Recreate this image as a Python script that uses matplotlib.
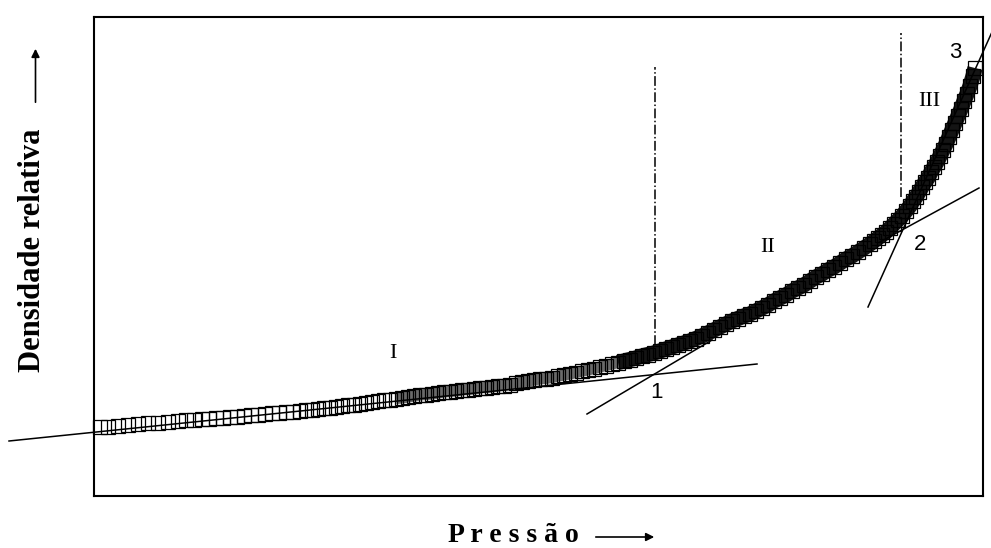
import numpy as np
import matplotlib.pyplot as plt

# pressure / relative density (arbitrary units, no ticks)
pressao = [6, 14, 24, 34, 44, 54, 64, 74, 84, 92, 100, 108, 115, 122, 129, 136, 143, 150, 157, 164,
           171, 178, 185, 192, 199, 206,
           212, 218, 224, 230, 236, 242, 248, 254, 260, 266, 272, 278, 284, 290, 296, 302, 308, 314,
           320, 326, 332, 338, 344, 350, 356, 362, 368, 374, 380, 386, 392, 398, 404, 410, 416, 422,
           428, 434, 440, 446, 452, 458, 464, 470, 476, 482, 488, 494, 500, 506,
           512, 518, 524, 530, 536, 542, 548, 554, 560, 566, 572, 578, 584, 590, 596, 602, 608, 614,
           620, 626, 632, 638, 644, 650, 656, 662, 668, 674, 680, 686, 692, 698, 704, 710, 716, 722,
           728, 734, 740, 746, 752, 758, 764, 770, 776, 780, 784, 788, 792, 796, 800, 804, 808, 812,
           816, 819, 822, 825, 828, 831, 834, 837, 840, 843, 846, 849, 852, 855, 858, 861, 864, 867,
           870, 873, 876, 879, 881]
densidade = [69, 69.5, 70, 71, 72, 73, 73.5, 74.5, 75, 76, 76.5, 77, 77.5, 78, 78.5, 79, 79.5, 80.5, 81, 81.5,
             82, 83, 83.5, 84, 84.5, 85,
             86, 86.5, 87, 88, 88.5, 89, 90, 91, 91.5, 92.5, 93, 94, 95, 96, 96.5, 97.5, 98, 99,
             100, 101, 101.5, 102, 103, 104, 104.5, 105, 106, 106.5, 107, 108, 108.5, 109, 110, 110.5, 111.5, 113,
             114, 115, 116, 117, 117.5, 118.5, 120, 121, 122, 123.5, 125, 126, 127.5, 129,
             130.5, 132, 133.5, 135, 136.5, 138, 140, 141.5, 143, 145, 147, 149, 151, 153, 155, 157.5, 160, 163,
             166, 169, 172, 175, 177.5, 180, 182, 185, 188, 191, 195, 198, 201, 205, 208, 211, 215, 219,
             222, 226, 229, 233, 237, 240, 244, 248, 252, 255, 258, 261, 264, 268, 272, 276, 280, 285,
             290, 295, 299, 304, 309, 314, 318, 324, 329, 334, 340, 346, 352, 359, 366, 373, 380, 387,
             395, 402, 410, 420, 428]

# tangent lines (x0, x1), (y0, y1)
tang_x = [(-85, 663), (493, 618), (786, 885), (774, 898)]
tang_y = [(55, 132), (82, 156), (254, 308), (189, 464)]

# region limits (dash-dot)
lim_x = [561, 807]
lim_y = [(151, 429), (299, 463)]

regioes = ['I', 'II', 'III']
regioes_pos = [(299, 143), (674, 248), (835, 395)]
pontos = ['1', '2', '3']
pontos_pos = [(563, 104), (826, 252), (861, 444)]

fig = plt.figure(figsize=(9.91, 5.48), dpi=100)
ax = fig.add_axes([94 / 991, 52 / 548, 889 / 991, 479 / 548])
ax.set_xlim(0, 889)
ax.set_ylim(0, 479)
ax.set_xticks([])
ax.set_yticks([])
for s in ax.spines.values():
    s.set_linewidth(1.5)

p = np.array(pressao)
d = np.array(densidade)
# overlapping squares get darker where points crowd together
m1 = (p >= 300) & (p <= 530)
m2 = p >= 520
ax.plot(p[m1], d[m1], color='#6a6a6a', lw=8, solid_capstyle='butt', zorder=2)
ax.plot(p[m2], d[m2], color='#141414', lw=11, solid_capstyle='butt', zorder=2)
ax.plot(p, d, 's', ms=9.5, mfc='none', mec='k', mew=0.9, clip_on=False, zorder=3)

for xs, ys in zip(tang_x, tang_y):
    ax.plot(xs, ys, color='k', lw=1.1, clip_on=False, zorder=4)

for x, ys in zip(lim_x, lim_y):
    ax.plot([x, x], ys, color='k', lw=1.1, ls='-.', zorder=1)

for t, (x, y) in zip(regioes, regioes_pos):
    ax.text(x, y, t, family='Liberation Serif', fontsize=16, ha='center', va='center')
for t, (x, y) in zip(pontos, pontos_pos):
    ax.text(x, y, t, family='Liberation Sans', fontsize=16, ha='center', va='center')

fig.text(33 / 991, 1 - 250 / 548, 'Densidade relativa', family='Liberation Serif', weight='bold',
         fontsize=22, rotation=90, ha='center', va='center')
fig.text(513 / 991, 1 - 536 / 548, 'P r e s s ã o', family='Liberation Serif', weight='bold',
         fontsize=20, ha='center', va='center')

ax.annotate('', xy=(35.5 / 991, 1 - 46 / 548), xytext=(35.5 / 991, 1 - 105 / 548),
            xycoords='figure fraction',
            arrowprops=dict(arrowstyle='-|>', color='k', lw=1.2, mutation_scale=12))
ax.annotate('', xy=(657 / 991, 1 - 537 / 548), xytext=(593 / 991, 1 - 537 / 548),
            xycoords='figure fraction',
            arrowprops=dict(arrowstyle='-|>', color='k', lw=1.2, mutation_scale=12))

fig.savefig('out.png', dpi=100)
